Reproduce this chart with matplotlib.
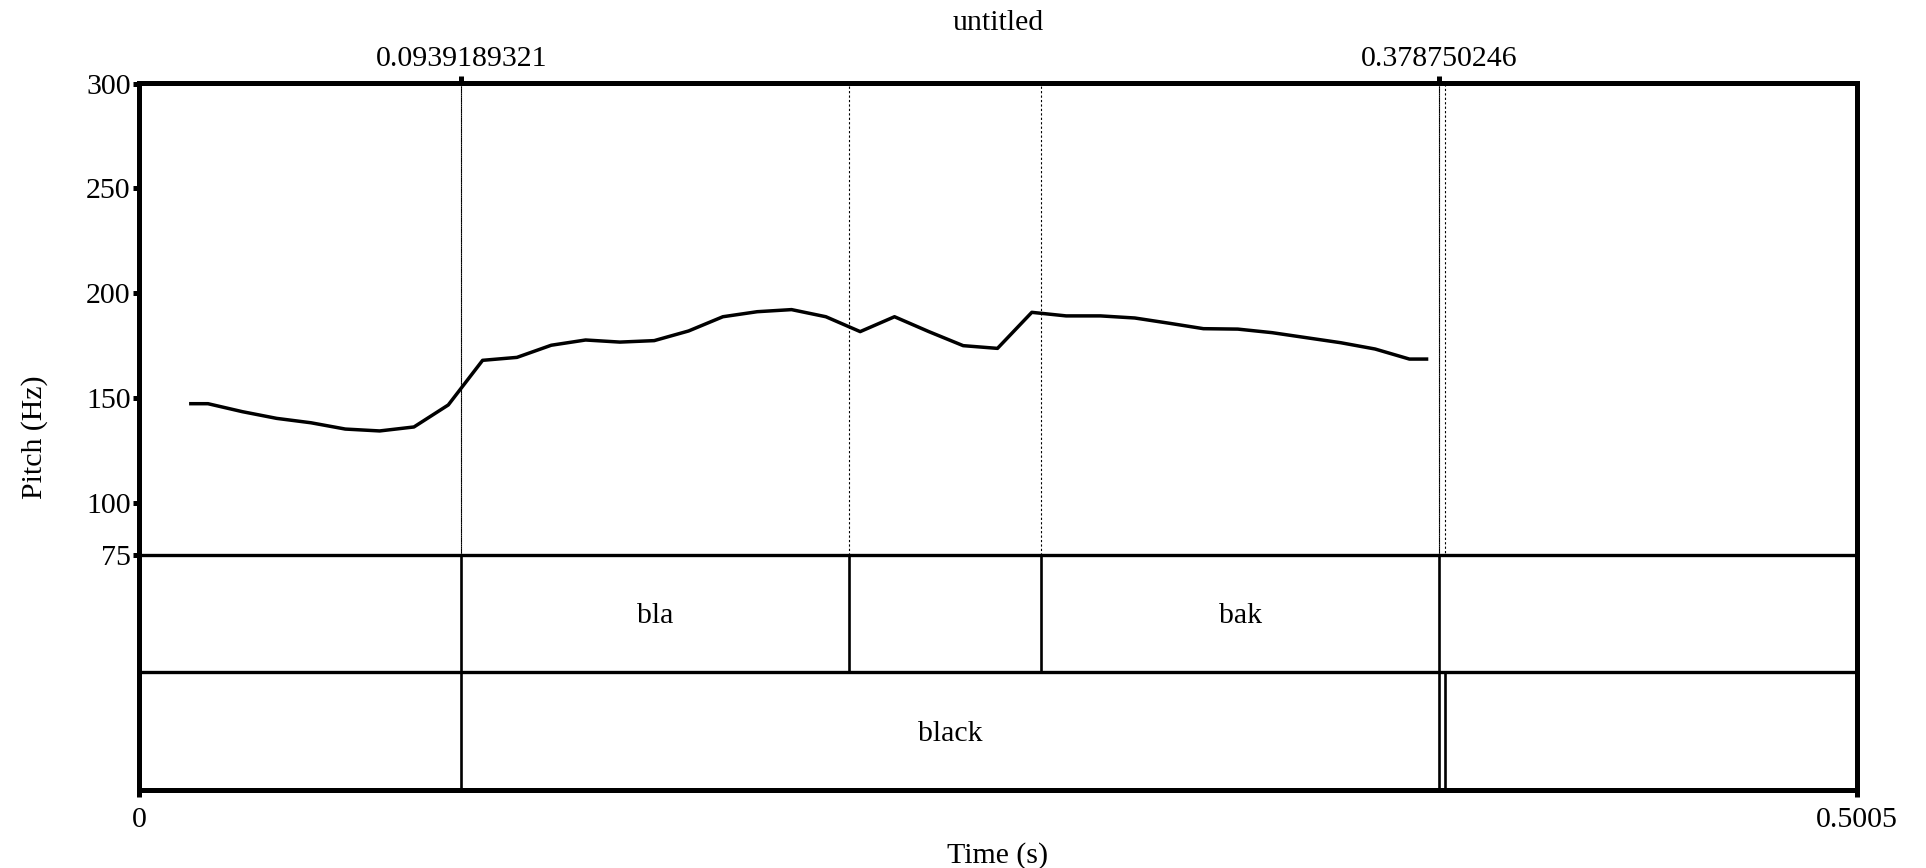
import matplotlib.pyplot as plt

# pitch track (s, Hz)
times = [0.0201, 0.0301, 0.0401, 0.0501, 0.0601, 0.0701, 0.0801, 0.0901, 0.1001,
         0.1101, 0.1201, 0.1301, 0.1401, 0.1501, 0.1601, 0.1701, 0.1801, 0.1901,
         0.2001, 0.2101, 0.2201, 0.2301, 0.2401, 0.2501, 0.2601, 0.2701, 0.2801,
         0.2901, 0.3001, 0.3101, 0.3201, 0.3301, 0.3401, 0.3501, 0.3601, 0.3701]
pitch_hz = [147.2, 143.4, 140.2, 138.1, 135.1, 134.2, 136.1, 146.6, 167.9,
            169.3, 175.1, 177.6, 176.6, 177.3, 181.9, 188.7, 191.1, 192.1,
            188.7, 181.6, 188.7, 181.6, 174.9, 173.6, 190.8, 189.1, 189.1,
            188.1, 185.6, 183.0, 182.8, 181.1, 178.7, 176.3, 173.3, 168.5]

# textgrid tiers
x_range = [0, 0.5005]
tier1_bounds = [0, 0.0939189321, 0.2069, 0.2628, 0.378750246, 0.5005]
tier1_labels = ["", "bla", "", "bak", ""]
tier2_bounds = [0, 0.0939189321, 0.378750246, 0.3805, 0.5005]
tier2_labels = ["", "black", "", ""]
marked_times = [0.0939189321, 0.378750246]
pitch_ticks = [75, 100, 150, 200, 250, 300]

plt.rcParams['font.family'] = ['Liberation Serif', 'DejaVu Serif']
fs = 21.5
W_PX, H_PX = 1926, 868

def fy(px):
    return 1 - px / H_PX

fig = plt.figure(figsize=(W_PX / 100, H_PX / 100), dpi=100)
left = 139 / W_PX
width = (1857 - 139) / W_PX
ax_p = fig.add_axes([left, fy(555), width, fy(83.5) - fy(555)])
ax_t1 = fig.add_axes([left, fy(672), width, fy(555) - fy(672)])
ax_t2 = fig.add_axes([left, fy(790), width, fy(672) - fy(790)])
for ax in (ax_p, ax_t1, ax_t2):
    ax.patch.set_visible(False)

thick = 3.6
mid = 2.4

# pitch panel
half = (times[1] - times[0]) / 2
t_line = [times[0] - half] + times + [times[-1] + half]
hz_line = [pitch_hz[0]] + pitch_hz + [pitch_hz[-1]]
ax_p.plot(t_line, hz_line, color='k', lw=2.5, zorder=5)
ax_p.vlines(tier1_bounds[1:-1], 75, 300, color='k', lw=0.8, linestyles=(0, (2, 2)))
ax_p.vlines(tier2_bounds[1:-1], 75, 300, color='k', lw=0.8, linestyles=(2, (2, 2)))
ax_p.set_xlim(x_range)
ax_p.set_ylim(75, 300)
ax_p.xaxis.tick_top()
ax_p.set_xticks(marked_times)
ax_p.set_xticklabels([str(v) for v in marked_times])
ax_p.set_yticks(pitch_ticks)
ax_p.tick_params(axis='x', direction='out', length=5.4, width=thick, pad=3, labelsize=fs)
ax_p.tick_params(axis='y', direction='out', length=4.5, width=thick, pad=1.5, labelsize=fs)
for s in ['top', 'left', 'right']:
    ax_p.spines[s].set_linewidth(thick)
ax_p.spines['bottom'].set_linewidth(mid)

# tiers
for ax, bounds, labels in [(ax_t1, tier1_bounds, tier1_labels), (ax_t2, tier2_bounds, tier2_labels)]:
    ax.set_xlim(x_range)
    ax.set_ylim(0, 1)
    ax.set_yticks([])
    ax.vlines(bounds[1:-1], 0, 1, color='k', lw=1.9)
    for a, b, lab in zip(bounds[:-1], bounds[1:], labels):
        if lab:
            ax.text((a + b) / 2, 0.417, lab, ha='center', va='baseline', fontsize=fs)
    ax.spines['top'].set_visible(False)
    ax.spines['left'].set_linewidth(thick)
    ax.spines['right'].set_linewidth(thick)

ax_t1.set_xticks([])
ax_t1.spines['bottom'].set_linewidth(mid)
ax_t2.spines['bottom'].set_linewidth(thick)
ax_t2.set_xticks(x_range)
ax_t2.set_xticklabels([str(v) for v in x_range])
ax_t2.tick_params(axis='x', direction='out', length=5, width=thick, pad=7, labelsize=fs)

fig.text(998 / W_PX, fy(30), 'untitled', ha='center', va='baseline', fontsize=fs)
fig.text(998 / W_PX, fy(863), 'Time (s)', ha='center', va='baseline', fontsize=fs)
fig.text(35 / W_PX, fy(436.75), 'Pitch (Hz)', rotation=90, ha='center', va='center', fontsize=fs)

fig.savefig('out.png', dpi=100)
